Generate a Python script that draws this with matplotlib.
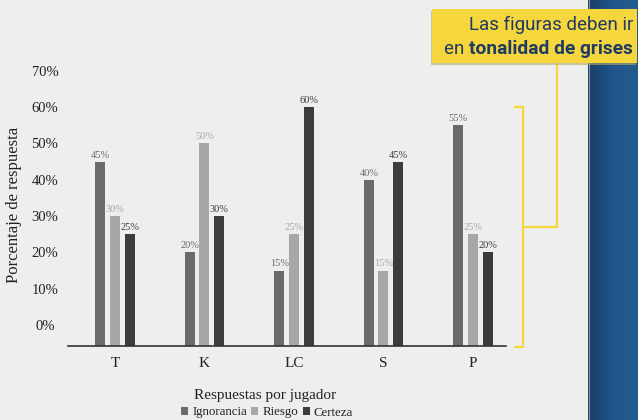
import matplotlib
matplotlib.use('Agg')
import matplotlib.pyplot as plt
import numpy as np
from matplotlib.patches import Rectangle
from matplotlib.lines import Line2D
from matplotlib import font_manager as fm
from matplotlib.colors import LinearSegmentedColormap

# ---------------- data ----------------
categories = ['T', 'K', 'LC', 'S', 'P']
series_names = ['Ignorancia', 'Riesgo', 'Certeza']
ignorancia = [45, 20, 15, 40, 55]
riesgo = [30, 50, 25, 15, 25]
certeza = [25, 30, 60, 45, 20]
y_ticks = [0, 10, 20, 30, 40, 50, 60, 70]
y_tick_labels = ['0%', '10%', '20%', '30%', '40%', '50%', '60%', '70%']
x_label = 'Respuestas por jugador'
y_label = 'Porcentaje de respuesta'
note_line1 = 'Las figuras deben ir'
note_line2_reg = 'en '
note_line2_bold = 'tonalidad de grises'

# ---------------- style ----------------
plt.rcParams['font.family'] = 'serif'
plt.rcParams['font.serif'] = ['Liberation Serif', 'DejaVu Serif']

BG = '#eeeeee'
C_IGN = '#6b6b6e'
C_RIE = '#a7a7aa'
C_CER = '#3c3c3c'
YELLOW = '#f5d63d'
NAVY = '#1f3a63'

W, H = 638, 420
fig = plt.figure(figsize=(W / 100, H / 100), dpi=100)
fig.patch.set_facecolor(BG)


def fx(x):
    return x / W


def fy(y):
    return 1 - y / H


# ---------------- main axes ----------------
ax = fig.add_axes([fx(68), fy(346), fx(506) - fx(68), fy(60) - fy(346)])
ax.set_facecolor('none')
Y0, Y1 = -5.8, 73

x = np.arange(len(categories))
off = 0.164
bw = 0.112
series = [(ignorancia, C_IGN, -off), (riesgo, C_RIE, 0.0), (certeza, C_CER, off)]
containers = []
for (vals, col, o), name in zip(series, series_names):
    vals = np.asarray(vals, dtype=float)
    bc = ax.bar(x + o, vals - Y0, bottom=Y0, width=bw, color=col, label=name,
                zorder=2)
    containers.append(bc)
    ax.bar_label(bc, labels=[f'{int(v)}%' for v in vals], padding=1.5,
                 fontsize=7.5, color=col)

ax.set_xlim(-0.525, 4.369)
ax.set_ylim(Y0, Y1)
ax.set_yticks(y_ticks, y_tick_labels)
ax.set_xticks(x, categories)
ax.tick_params(axis='y', length=0, pad=16.6, labelsize=10.5, colors='#222222')
for lab in ax.get_yticklabels():
    lab.set_horizontalalignment('center')
ax.tick_params(axis='x', length=0, pad=8, labelsize=11, colors='#222222')
for s in ['top', 'right', 'left']:
    ax.spines[s].set_visible(False)
ax.spines['bottom'].set_color('#333333')
ax.spines['bottom'].set_linewidth(1.2)
ax.spines['bottom'].set_zorder(3)

fig.text(fx(14.5), fy(204.5), y_label, rotation=90, ha='center', va='center',
         fontsize=12, color='#222222')
fig.text(fx(265), fy(399.3), x_label, ha='center', va='baseline',
         fontsize=11, color='#222222')

fig.legend(containers, series_names, ncol=3, loc='center',
           bbox_to_anchor=(fx(267), fy(412.5)), bbox_transform=fig.transFigure,
           frameon=False, prop={'family': 'serif', 'size': 9.3},
           handlelength=0.55, handleheight=0.55,
           handletextpad=0.3, columnspacing=0.35, borderpad=0, borderaxespad=0,
           labelcolor='#222222')

# ---------------- blue side band ----------------
bax = fig.add_axes([fx(588), 0, fx(638) - fx(588), 1])
bax.axis('off')
cmap = LinearSegmentedColormap.from_list('b', ['#193f68', '#21548a', '#245b8e'])
grad = np.linspace(0, 1, 64).reshape(1, -1)
bax.imshow(grad, aspect='auto', cmap=cmap, extent=[0, 1, 0, 1])
bax.set_xlim(0, 1)
bax.set_ylim(0, 1)
fig.add_artist(Line2D([fx(588.5), fx(588.5)], [0, 1], transform=fig.transFigure,
                      color='#8797aa', lw=0.8))

# ---------------- callout box ----------------
fig.add_artist(Rectangle((fx(430.5), fy(64.5)), fx(637) - fx(432), fy(9) - fy(63),
                         transform=fig.transFigure, facecolor='#b5aa6a',
                         edgecolor='none', alpha=0.6, zorder=5))
fig.add_artist(Rectangle((fx(432), fy(63)), fx(637) - fx(432), fy(9) - fy(63),
                         transform=fig.transFigure, facecolor=YELLOW,
                         edgecolor='none', zorder=6))


def has_font(name):
    try:
        fm.findfont(fm.FontProperties(family=name), fallback_to_default=False)
        return True
    except Exception:
        return False


sans = 'Liberation Sans Narrow' if has_font('Liberation Sans Narrow') else 'Roboto'

t1 = fig.text(fx(633), fy(29.5), note_line1, ha='right', va='baseline',
              family=[sans, 'DejaVu Sans'], fontsize=15, color=NAVY, zorder=7)
t2b = fig.text(fx(633), fy(54.5), note_line2_bold, ha='right', va='baseline',
               family=[sans, 'DejaVu Sans'], fontweight='bold', fontsize=15,
               color=NAVY, zorder=7)
fig.canvas.draw()
r = fig.canvas.get_renderer()
w1 = t1.get_window_extent(r).width
t1.set_fontsize(15 * 165 / w1)
w2 = t2b.get_window_extent(r).width
t2b.set_fontsize(15 * 165 / w2)
fig.canvas.draw()
bb = t2b.get_window_extent(r)
t2r = fig.text(bb.x0 / fig.bbox.width, fy(54.5), note_line2_reg, ha='right',
               va='baseline', family=[sans, 'DejaVu Sans'],
               fontsize=t1.get_fontsize(), color=NAVY, zorder=7)

# ---------------- yellow connector + bracket ----------------
lw = 1.6
fig.add_artist(Line2D([fx(556.5), fx(556.5), fx(523.3)], [fy(63), fy(226.7), fy(226.7)],
                      transform=fig.transFigure, color=YELLOW, lw=lw,
                      solid_joinstyle='miter', zorder=4))
fig.add_artist(Line2D([fx(515), fx(523.3), fx(523.3), fx(515)],
                      [fy(106.7), fy(106.7), fy(346.7), fy(346.7)],
                      transform=fig.transFigure, color=YELLOW, lw=lw,
                      solid_joinstyle='miter', zorder=4))

fig.savefig('out.png', dpi=100, facecolor=BG)
